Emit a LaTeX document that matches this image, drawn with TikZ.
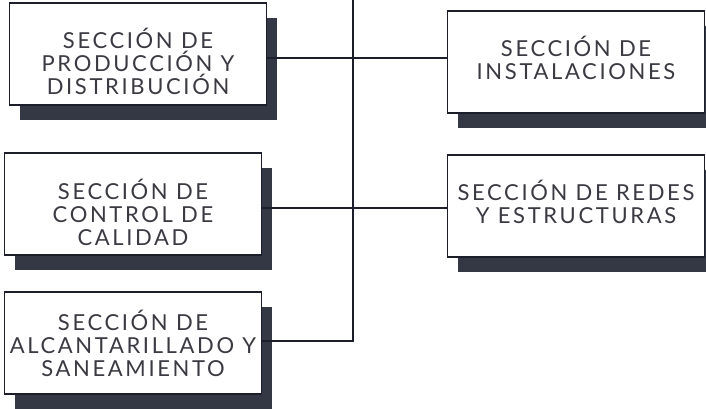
\documentclass[tikz,border=0pt]{standalone}
\usepackage{fontspec}
\setmainfont{Lato}
\usetikzlibrary{shadows}
\definecolor{tinta}{RGB}{58,58,66}
\definecolor{sombra}{RGB}{52,56,68}
\definecolor{linea}{RGB}{28,30,44}
\newfontfamily\rotulo[LetterSpace=12]{Lato}
\tikzset{
  seccion/.style={draw=linea,line width=1.6pt,fill=white,rectangle,
    minimum width=257pt,minimum height=102pt,
    drop shadow={shadow xshift=10pt,shadow yshift=-15pt,fill=sombra,opacity=1}},
  texto/.style={align=center,text=tinta,inner sep=0pt,
    font=\rotulo\fontsize{22}{23}\selectfont},
  enlace/.style={draw=linea,line width=2.8pt}
}
\begin{document}
\begin{tikzpicture}[x=1pt,y=-1pt]
\useasboundingbox (0,0) rectangle (706,409);
\node[seccion,label={[texto,yshift=-7pt]center:SECCIÓN DE\\PRODUCCIÓN Y\\DISTRIBUCIÓN}] (prod) at (138,54) {};
\node[seccion,label={[texto,yshift=-8pt]center:SECCIÓN DE\\CONTROL DE\\CALIDAD}] (calidad) at (133,204) {};
\node[seccion,label={[texto]center:SECCIÓN DE\\ALCANTARILLADO Y\\SANEAMIENTO}] (alcant) at (133,343) {};
\node[seccion,label={[texto,yshift=4pt]center:SECCIÓN DE\\INSTALACIONES}] (instal) at (576,62) {};
\node[seccion,label={[texto,yshift=4pt]center:SECCIÓN DE REDES\\Y ESTRUCTURAS}] (redes) at (576,206) {};
\coordinate (tope) at (353,-2);
\coordinate (c1) at (353,58);
\coordinate (c2) at (353,208);
\coordinate (c3) at (353,341);
\draw[enlace,line join=miter] (tope) -- (c3) -- (alcant.east |- c3);
\draw[enlace] (prod.east |- c1) -- (instal.west |- c1);
\draw[enlace] (calidad.east |- c2) -- (redes.west |- c2);
\end{tikzpicture}
\end{document}
